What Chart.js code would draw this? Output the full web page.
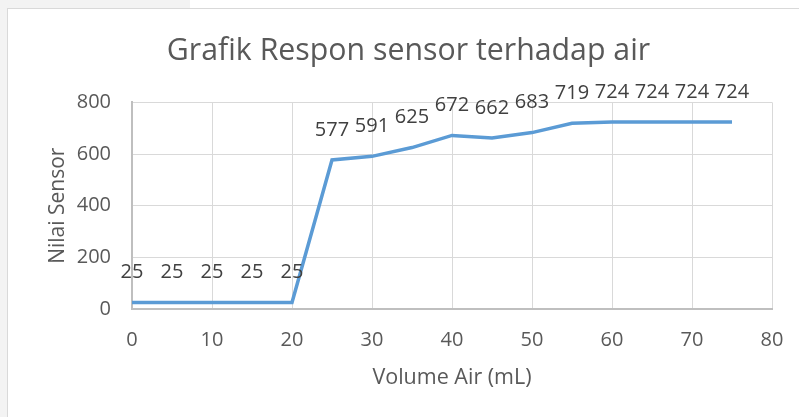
<!doctype html>
<html lang="id">
<head>
  <meta charset="utf-8" />
  <title>Grafik Respon sensor terhadap air</title>
  <script src="https://cdn.jsdelivr.net/npm/chart.js@4.4.0/dist/chart.umd.min.js"></script>
  <style>
    html, body { margin: 0; padding: 0; background: #fff; }
    #wrap { position: relative; width: 799px; height: 417px; overflow: hidden; background: #f3f3f3; }
    #topwhite { position: absolute; left: 190px; top: 0; width: 609px; height: 8px; background: #fff; }
    #frame { position: absolute; left: 7px; top: 8px; width: 820px; height: 440px; background: #fff; border: 1px solid #d9d9d9; }
    #canva { position: absolute; left: 0; top: 0; width: 799px; height: 417px; }
  </style>
</head>
<body>
<div id="wrap">
  <div id="topwhite"></div>
  <div id="frame"></div>
  <div id="canva"><canvas id="myChart" width="799" height="417"></canvas></div>
</div>

<script>
// volume (mL) and sensor readings
var volume = [0, 5, 10, 15, 20, 25, 30, 35, 40, 45, 50, 55, 60, 65, 70, 75];
var nilai  = [25, 25, 25, 25, 25, 577, 591, 625, 672, 662, 683, 719, 724, 724, 724, 724];
var xTicks = [0, 10, 20, 30, 40, 50, 60, 70, 80];
var yTicks = [0, 200, 400, 600, 800];

var FONT = "'Open Sans', 'Noto Sans', sans-serif";

// data labels above every point
var labelPlugin = {
  id: 'labels',
  afterDatasetsDraw: function (chart) {
    var ctx = chart.ctx;
    var meta = chart.getDatasetMeta(0);
    ctx.save();
    ctx.font = '20px ' + FONT;
    ctx.fillStyle = '#404040';
    ctx.textAlign = 'center';
    ctx.textBaseline = 'middle';
    meta.data.forEach(function (pt, i) {
      ctx.fillText(String(nilai[i]), pt.x, pt.y - 30);
    });
    ctx.restore();
  }
};

function Draw() {
  var ctx = document.getElementById('myChart');
  var points = volume.map(function (v, i) { return {x: v, y: nilai[i]}; });
  new Chart(ctx, {
    type: 'line',
    data: {
      datasets: [{
        label: 'Nilai Sensor',
        data: points,
        borderColor: '#5b9bd5',
        backgroundColor: '#5b9bd5',
        borderWidth: 3.5,
        pointRadius: 0,
        tension: 0,
        fill: false
      }]
    },
    plugins: [labelPlugin],
    options: {
      responsive: false,
      animation: false,
      layout: { padding: { left: 45, right: 27, top: 8, bottom: 17 } },
      plugins: {
        legend: { display: false },
        tooltip: { enabled: false },
        title: {
          display: true,
          text: 'Grafik Respon sensor terhadap air',
          color: '#595959',
          font: { family: FONT, size: 30.3, weight: 'normal', lineHeight: 1.2 },
          padding: { top: 25, bottom: 33 }
        }
      },
      scales: {
        x: {
          type: 'linear',
          min: 0, max: 80,
          afterBuildTicks: function (s) { s.ticks = xTicks.map(function (v) { return {value: v}; }); },
          afterFit: function (s) { s.height = 91; s.paddingLeft = 0; s.paddingRight = 0; },
          grid: { color: '#d9d9d9', lineWidth: 1, drawTicks: false },
          border: { color: '#bfbfbf', width: 2 },
          ticks: { color: '#595959', font: { family: FONT, size: 20 }, padding: 19, maxRotation: 0 },
          title: {
            display: true, text: 'Volume Air (mL)', color: '#595959',
            font: { family: FONT, size: 21.5, lineHeight: 1.2 },
            padding: { top: 0, bottom: 9 }
          }
        },
        y: {
          min: 0, max: 800,
          afterBuildTicks: function (s) { s.ticks = yTicks.map(function (v) { return {value: v}; }); },
          afterFit: function (s) { s.width = 87; },
          grid: { color: '#d9d9d9', lineWidth: 1, drawTicks: false },
          border: { color: '#bfbfbf', width: 2 },
          ticks: { color: '#595959', font: { family: FONT, size: 20 }, padding: 21 },
          title: {
            display: true, text: 'Nilai Sensor', color: '#595959',
            font: { family: FONT, size: 21, lineHeight: 1.2 },
            padding: { top: 0, bottom: 0 }
          }
        }
      }
    }
  });
}
Draw();
</script>
</body>
</html>
